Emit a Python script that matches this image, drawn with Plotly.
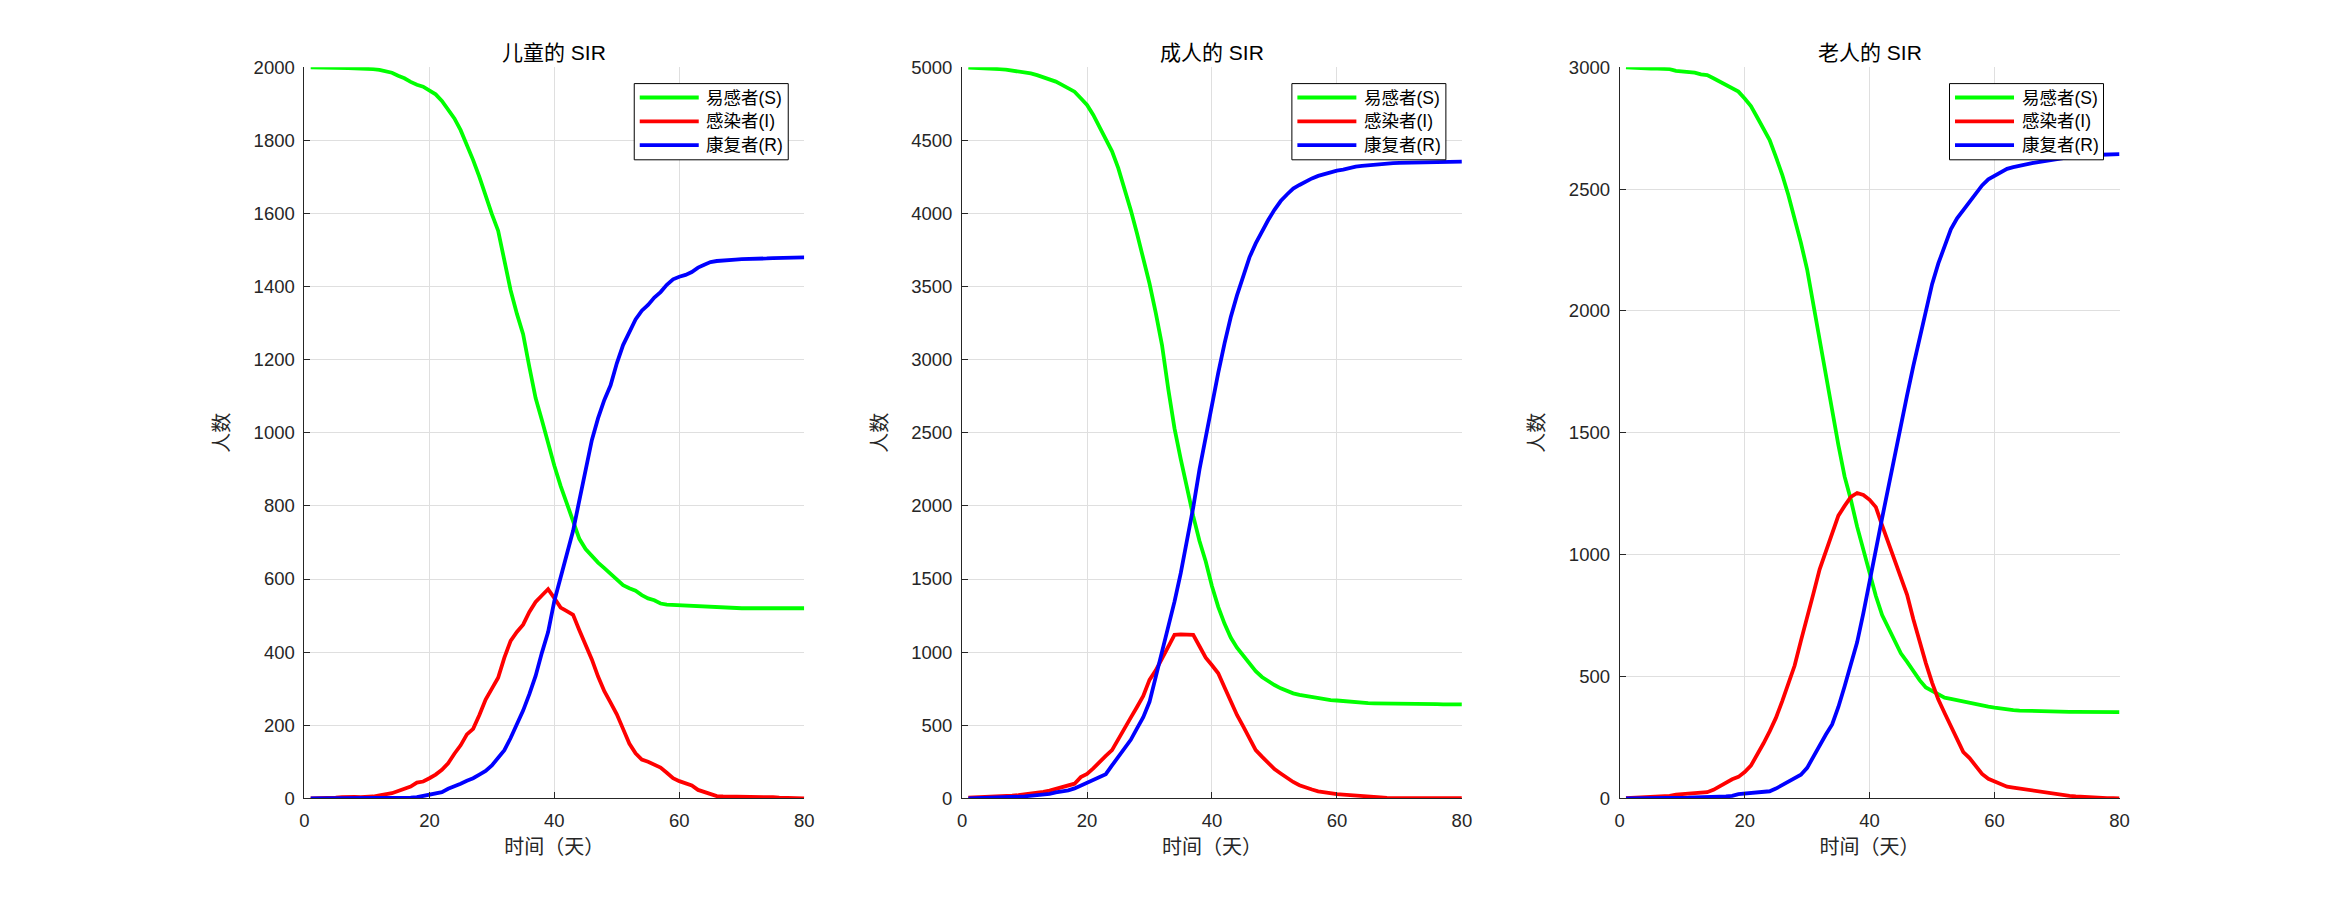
import plotly.graph_objects as go
from plotly.subplots import make_subplots

days = list(range(1, 81))

# 儿童
child_s = [2000, 2000, 2000, 1999, 1999, 1998, 1998, 1997, 1997, 1997,
           1995, 1993, 1990, 1985, 1977, 1970, 1960, 1952, 1947, 1936,
           1926, 1908, 1885, 1860, 1828, 1788, 1746, 1700, 1646, 1598,
           1553, 1470, 1390, 1326, 1270, 1180, 1095, 1035, 970, 910,
           855, 805, 755, 710, 682, 662, 645, 630, 615, 598,
           583, 575, 568, 556, 547, 542, 533, 530, 529, 528,
           527, 526, 525, 524, 523, 523, 523, 522, 521, 520,
           520, 520, 520, 520, 520, 520, 520, 520, 520, 520]
child_i = [0, 0, 0, 1, 2, 3, 4, 4, 3, 3,
           5, 8, 11, 14, 20, 26, 32, 43, 46, 55,
           65, 78, 96, 122, 145, 175, 190, 228, 270, 300,
           330, 385, 431, 455, 475, 510, 537, 555, 572, 548,
           522, 512, 502, 460, 420, 380, 333, 293, 262, 230,
           190, 150, 123, 106, 100, 92, 84, 70, 55, 47,
           40, 35, 23, 17, 10, 6, 5, 5, 5, 5,
           4, 4, 3, 3, 3, 2, 2, 1, 0, 0]
child_r = [0, 0, 0, 0, 0, 0, 0, 0, 1, 1,
           1, 1, 2, 2, 2, 2, 2, 3, 6, 9,
           12, 17, 26, 32, 40, 48, 55, 65, 75, 90,
           110, 132, 165, 200, 240, 285, 335, 398, 455, 540,
           605, 670, 732, 815, 898, 980, 1040, 1090, 1130, 1190,
           1240, 1275, 1310, 1334, 1350, 1370, 1385, 1405, 1420, 1427,
           1432, 1440, 1452, 1460, 1467, 1470, 1472, 1473, 1474, 1475,
           1475, 1476, 1476, 1477, 1478, 1478, 1478, 1479, 1479, 1480]

# 成人
adult_s = [4998, 4997, 4995, 4993, 4991, 4988, 4984, 4979, 4973, 4966,
           4958, 4946, 4932, 4918, 4902, 4880, 4856, 4833, 4788, 4742,
           4674, 4594, 4514, 4425, 4310, 4171, 4023, 3863, 3703, 3521,
           3320, 3100, 2800, 2530, 2320, 2120, 1930, 1760, 1620, 1450,
           1310, 1195, 1100, 1030, 975, 920, 870, 830, 800, 775,
           752, 733, 718, 707, 700, 693, 684, 675, 672, 669,
           665, 658, 654, 652, 651, 650, 650, 650, 649, 649,
           648, 648, 647, 646, 645, 644, 643, 643, 642, 642]
adult_i = [5, 6, 7, 8, 9, 12, 15, 18, 21, 26,
           31, 37, 44, 53, 64, 72, 85, 100, 145, 167,
           205, 250, 290, 330, 400, 480, 552, 625, 700, 810,
           875, 955, 1040, 1118, 1122, 1120, 1118, 1040, 962, 910,
           855, 760, 665, 570, 492, 410, 330, 285, 240, 200,
           170, 137, 112, 90, 72, 60, 48, 40, 32, 28,
           25, 23, 20, 18, 15, 12, 7, 3, 1, 1,
           1, 1, 1, 1, 2, 2, 2, 2, 2, 2]
adult_r = [0, 1, 1, 2, 2, 4, 6, 9, 11, 14,
           17, 21, 26, 31, 40, 46, 55, 68, 88, 105,
           125, 145, 165, 225, 280, 335, 400, 478, 555, 660,
           830, 1010, 1168, 1345, 1540, 1760, 1990, 2250, 2480, 2700,
           2910, 3110, 3290, 3440, 3575, 3700, 3795, 3880, 3955, 4025,
           4085, 4130, 4170, 4195, 4220, 4240, 4257, 4270, 4285, 4293,
           4300, 4312, 4320, 4325, 4330, 4335, 4340, 4342, 4344, 4346,
           4347, 4348, 4349, 4350, 4350, 4351, 4352, 4353, 4354, 4354]

# 老人
elder_s = [3000, 2998, 2996, 2995, 2995, 2995, 2995, 2992, 2985, 2983,
           2981, 2978, 2971, 2968, 2955, 2941, 2927, 2914, 2900, 2872,
           2841, 2795, 2749, 2701, 2632, 2560, 2475, 2380, 2280, 2170,
           2025, 1870, 1730, 1590, 1450, 1320, 1225, 1115, 1020, 915,
           830, 752, 700, 645, 595, 560, 520, 485, 455, 440,
           425, 413, 408, 402, 398, 393, 388, 382, 376, 372,
           368, 364, 362, 360, 359, 358, 358, 357, 357, 356,
           356, 355, 355, 355, 355, 354, 354, 354, 354, 354]
elder_i = [1, 2, 3, 4, 5, 6, 7, 10, 15, 17,
           19, 21, 23, 25, 35, 50, 62, 78, 88, 108,
           134, 178, 225, 275, 330, 398, 475, 545, 646, 750,
           840, 940, 1015, 1085, 1160, 1200, 1237, 1253, 1245, 1225,
           1195, 1120, 1050, 980, 910, 835, 735, 640, 555, 475,
           405, 350, 295, 240, 190, 165, 135, 100, 80, 70,
           62, 48, 44, 40, 37, 34, 31, 27, 22, 18,
           14, 10, 8, 6, 4, 3, 2, 1, 1, 0]
elder_r = [0, 0, 0, 0, 0, 0, 1, 1, 1, 2,
           3, 4, 4, 5, 6, 7, 8, 10, 17, 19,
           21, 23, 26, 29, 40, 55, 66, 82, 97, 125,
           172, 218, 262, 303, 375, 460, 550, 640, 760, 900,
           1020, 1150, 1280, 1410, 1530, 1655, 1775, 1890, 2005, 2110,
           2195, 2270, 2335, 2380, 2415, 2450, 2485, 2515, 2540, 2555,
           2572, 2583, 2590, 2597, 2602, 2607, 2611, 2616, 2620, 2624,
           2627, 2630, 2633, 2636, 2638, 2640, 2641, 2642, 2643, 2644]

titles = ['儿童的 SIR', '成人的 SIR', '老人的 SIR']
groups = [(child_s, child_i, child_r), (adult_s, adult_i, adult_r), (elder_s, elder_i, elder_r)]
y_max = [2000, 5000, 3000]
y_step = [200, 500, 500]
names = ['易感者(S)', '感染者(I)', '康复者(R)']
colors = ['#00ff00', '#ff0000', '#0000ff']

FONT = 'Liberation Sans, Arial, Noto Sans CJK SC'
W, H = 2342, 897
x_dom = [(0.13, 0.3434), (0.4108, 0.6242), (0.6916, 0.905)]
y_dom = (0.11, 0.925)

fig = make_subplots(rows=1, cols=3)

for k, series in enumerate(groups):
    for vals, name, col in zip(series, names, colors):
        fig.add_trace(go.Scatter(x=days, y=vals, mode='lines', name=name,
                                 line=dict(color=col, width=3.8), showlegend=False),
                      row=1, col=k + 1)

axis_style = dict(showgrid=True, gridcolor='#dfdfdf', gridwidth=1, zeroline=False,
                  showline=True, linecolor='#262626', linewidth=1, mirror=False,
                  ticks='inside', ticklen=6, tickcolor='#262626', automargin=False,
                  tickfont=dict(family=FONT, size=18.5, color='#262626'))

layout = {}
for k in range(3):
    sfx = '' if k == 0 else str(k + 1)
    layout['xaxis' + sfx] = dict(axis_style, domain=x_dom[k], range=[0, 80],
                                 tickvals=[0, 20, 40, 60, 80], ticklabelstandoff=5,
                                 title=dict(text='时间（天）', standoff=10,
                                            font=dict(family=FONT, size=20, color='#262626')))
    layout['yaxis' + sfx] = dict(axis_style, domain=y_dom, range=[0, y_max[k]],
                                 tickvals=list(range(0, y_max[k] + 1, y_step[k])),
                                 ticklabelstandoff=5,
                                 title=dict(text='人数', standoff=18,
                                            font=dict(family=FONT, size=20, color='#262626')))
fig.update_layout(**layout)


def px_x(p):
    return p / W


def px_y(p):
    return 1 - p / H


# titles and boxed legends (MATLAB style: long line samples)
for k in range(3):
    fig.add_annotation(x=(x_dom[k][0] + x_dom[k][1]) / 2, y=px_y(52), xref='paper', yref='paper',
                       text=titles[k], showarrow=False, xanchor='center', yanchor='middle',
                       font=dict(family=FONT, size=21, color='black'))
    right = x_dom[k][1] * W - 16
    left = right - 154
    fig.add_shape(type='rect', xref='paper', yref='paper',
                  x0=px_x(left), x1=px_x(right), y0=px_y(159.8), y1=px_y(83.6),
                  line=dict(color='black', width=1), fillcolor='white', layer='above')
    for j, (name, col) in enumerate(zip(names, colors)):
        row_y = 97.5 + j * 23.8
        fig.add_shape(type='line', xref='paper', yref='paper',
                      x0=px_x(left + 5.5), x1=px_x(left + 64.5), y0=px_y(row_y), y1=px_y(row_y),
                      line=dict(color=col, width=3.8), layer='above')
        fig.add_annotation(x=px_x(left + 70), y=px_y(row_y), xref='paper', yref='paper',
                           text=name, showarrow=False, xanchor='left', yanchor='middle',
                           font=dict(family=FONT, size=17.5, color='black'))

fig.update_layout(width=W, height=H, margin=dict(l=0, r=0, t=0, b=0, autoexpand=False),
                  paper_bgcolor='white', plot_bgcolor='white')

fig.write_html("out.html", config={'displayModeBar': False},
               post_script="document.body.style.margin='0';")
